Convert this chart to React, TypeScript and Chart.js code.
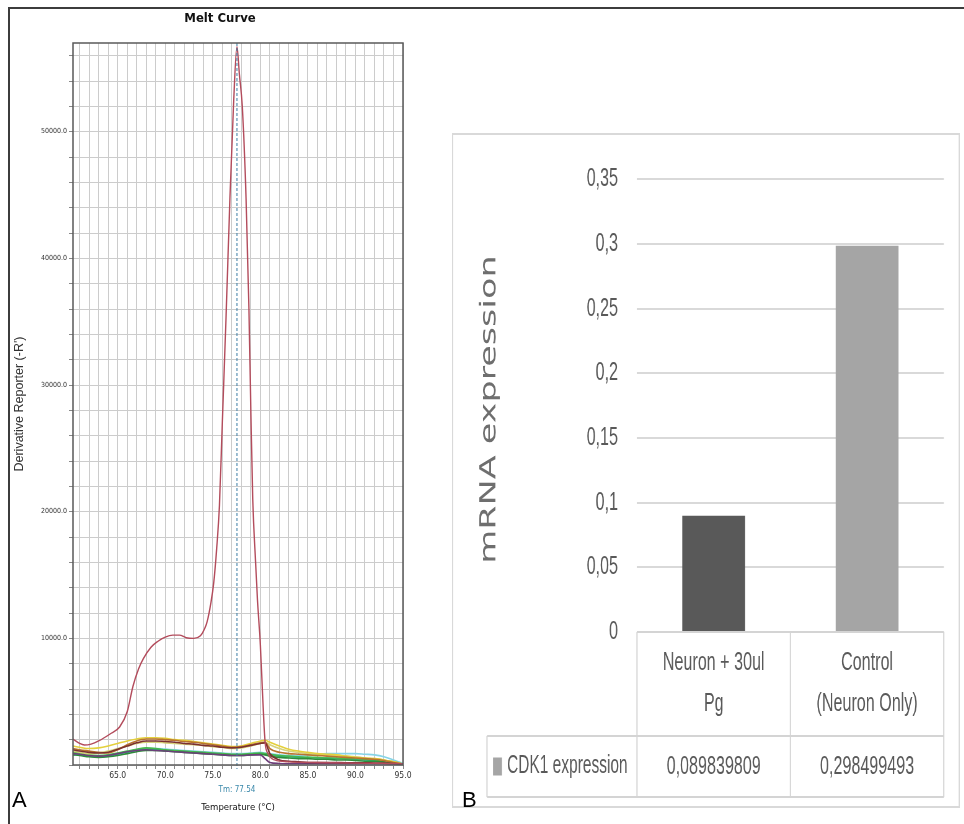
import React, { useEffect, useRef } from 'react';
import { Chart, registerables } from 'chart.js';

Chart.register(...registerables);

const NARROW = '"Liberation Sans Narrow", "Arial Narrow", "DejaVu Sans Condensed", "Roboto Condensed", "Liberation Sans", Arial, sans-serif';
const SANS = '"Liberation Sans", Arial, sans-serif';

// ---------- Panel A : melt curve ----------
const MELT_TITLE = 'Melt Curve';
const MELT_X_TITLE = 'Temperature (°C)';
const MELT_Y_TITLE = "Derivative Reporter (-R')";
const TM_VALUE = 77.54;
const TM_LABEL = 'Tm: 77.54';
const X_MIN = 60.3;
const X_MAX = 95;
const Y_MIN = 0;
const Y_MAX = 57000;
const X_GRID_TICKS = [61, 62, 63, 64, 65, 66, 67, 68, 69, 70, 71, 72, 73, 74, 75, 76, 77, 78, 79, 80, 81, 82, 83, 84, 85, 86, 87, 88, 89, 90, 91, 92, 93, 94, 95];
const Y_GRID_TICKS = [0, 2000, 4000, 6000, 8000, 10000, 12000, 14000, 16000, 18000, 20000, 22000, 24000, 26000, 28000, 30000, 32000, 34000, 36000, 38000, 40000, 42000, 44000, 46000, 48000, 50000, 52000, 54000, 56000];
const Y_LABELLED = [10000, 20000, 30000, 40000, 50000];

const RED_TEMPS = [60.3, 61, 61.5, 62.2, 63, 64.2, 65.2, 66, 66.6, 67.2, 67.7, 68.5, 69.2, 70, 70.8, 71.5, 72.2, 73, 73.7, 74.1, 74.4, 74.8, 75.1, 75.4, 75.7, 76.0, 76.4, 76.8, 77.2, 77.54, 77.8, 78.1, 78.5, 78.8, 79.0, 79.2, 79.5, 79.7, 80.0, 80.3, 80.5, 80.8, 81.5, 83, 86, 90, 95];
const RED_VALUES = [2050, 1700, 1580, 1650, 1900, 2450, 3000, 4200, 6200, 7600, 8400, 9300, 9750, 10100, 10250, 10250, 10050, 10000, 10200, 10700, 11300, 12800, 14400, 17000, 20500, 27000, 35500, 44700, 52500, 56700, 54500, 52000, 44700, 36000, 28000, 21000, 16000, 13000, 9500, 4500, 1800, 900, 400, 250, 200, 150, 100];

const LOW_TEMPS = [60.3, 61, 62, 63, 64, 65, 66, 67, 68, 69, 70, 71, 72, 73, 74, 75, 76, 77, 78, 79, 80, 80.5, 81, 82, 83, 84, 85, 86, 87, 88, 89, 90, 91, 92, 93, 94, 95];
const LOW_YELLOW = [1500, 1400, 1300, 1350, 1500, 1700, 1900, 2050, 2150, 2150, 2100, 2000, 1950, 1850, 1750, 1650, 1550, 1450, 1500, 1700, 1900, 1950, 1800, 1500, 1250, 1100, 1000, 900, 850, 800, 700, 600, 550, 500, 400, 250, 80];
const LOW_ORANGE = [1300, 1200, 1100, 1000, 950, 1200, 1600, 1900, 2050, 2050, 2000, 1950, 1850, 1800, 1700, 1600, 1500, 1400, 1450, 1600, 1750, 1800, 1300, 1000, 900, 850, 800, 750, 700, 650, 600, 550, 500, 450, 350, 200, 80];
const LOW_KHAKI = [1100, 1000, 900, 950, 1100, 1300, 1500, 1700, 1800, 1800, 1750, 1700, 1650, 1600, 1550, 1450, 1400, 1300, 1350, 1500, 1700, 1800, 1600, 1300, 1100, 1000, 900, 850, 800, 750, 700, 650, 550, 500, 400, 250, 80];
const LOW_GREEN = [1000, 950, 800, 750, 800, 950, 1100, 1250, 1350, 1300, 1200, 1150, 1100, 1050, 1000, 950, 900, 850, 850, 900, 950, 900, 850, 750, 700, 650, 600, 600, 550, 550, 500, 500, 450, 400, 350, 250, 80];
const LOW_TEAL = [900, 850, 700, 650, 700, 850, 1000, 1150, 1250, 1250, 1150, 1100, 1050, 1000, 950, 900, 850, 800, 800, 850, 900, 850, 800, 700, 650, 600, 600, 550, 550, 500, 500, 450, 400, 350, 300, 200, 60];
const LOW_CYAN = [800, 800, 700, 700, 750, 900, 1050, 1200, 1300, 1300, 1250, 1200, 1150, 1100, 1050, 1000, 950, 900, 900, 950, 1000, 950, 900, 800, 750, 750, 800, 850, 900, 900, 900, 900, 850, 800, 650, 400, 120];
const LOW_DARKGREEN = [800, 750, 650, 600, 650, 750, 900, 1050, 1150, 1150, 1100, 1050, 1000, 950, 900, 850, 800, 750, 750, 800, 850, 800, 700, 600, 550, 500, 500, 450, 450, 400, 400, 350, 300, 300, 250, 180, 60];
const LOW_MAROON = [1200, 1100, 1000, 950, 1000, 1250, 1500, 1750, 1900, 1900, 1850, 1800, 1700, 1650, 1550, 1500, 1400, 1350, 1400, 1550, 1700, 1750, 900, 400, 300, 250, 200, 200, 200, 200, 180, 180, 170, 160, 150, 120, 80];
const LOW_PURPLE = [900, 850, 750, 700, 750, 900, 1050, 1150, 1200, 1150, 1100, 1050, 1000, 950, 900, 850, 800, 750, 750, 800, 800, 500, 200, 120, 100, 100, 100, 100, 100, 100, 100, 100, 100, 100, 100, 80, 60];

// ---------- Panel B : bar chart with data table ----------
const B_CATEGORIES = [['Neuron + 30ul', 'Pg'], ['Control', '(Neuron Only)']];
const B_SERIES = 'CDK1 expression';
const B_VALUES = [0.089839809, 0.298499493];
const B_COLORS = ['#595959', '#a5a5a5'];
const B_Y_TITLE = 'mRNA expression';
const B_Y_TICKS = ['0', '0,05', '0,1', '0,15', '0,2', '0,25', '0,3', '0,35'];

// Panel B artwork is horizontally compressed in the reference
const B_SQUEEZE = 0.62;
const B_W = 508;
const B_H = 675;
const BX = (px: number) => px / B_SQUEEZE;

function toPoints(temps: number[], values: number[]) {
  return temps.map((t, i) => ({ x: t, y: values[i] }));
}

function lowSet(values: number[], color: string) {
  return {
    data: toPoints(LOW_TEMPS, values),
    borderColor: color,
    borderWidth: 1.6,
    pointRadius: 0,
    cubicInterpolationMode: 'monotone' as const,
  };
}

function MeltChart() {
  const ref = useRef<HTMLCanvasElement>(null);
  useEffect(() => {
    if (!ref.current) return;
    const tmPlugin = {
      id: 'tmFrame',
      afterDatasetsDraw(chart: any) {
        const { ctx, chartArea: a, scales } = chart;
        const x = scales.x.getPixelForValue(TM_VALUE);
        ctx.save();
        ctx.strokeStyle = '#3d7ea6';
        ctx.lineWidth = 1;
        ctx.setLineDash([3, 2]);
        ctx.beginPath();
        ctx.moveTo(x, a.top);
        ctx.lineTo(x, a.bottom + 4);
        ctx.stroke();
        ctx.setLineDash([]);
        ctx.strokeStyle = '#5a5a5a';
        ctx.lineWidth = 1.5;
        ctx.strokeRect(a.left, a.top, a.right - a.left, a.bottom - a.top);
        ctx.fillStyle = '#3a88aa';
        ctx.font = `8px ${NARROW}`;
        ctx.textAlign = 'center';
        ctx.textBaseline = 'middle';
        ctx.fillText(TM_LABEL, x, a.bottom + 25);
        ctx.restore();
      },
    };
    const chart = new Chart(ref.current, {
      type: 'line',
      data: {
        datasets: [
          { data: toPoints(RED_TEMPS, RED_VALUES), borderColor: '#b34c5c', borderWidth: 1.4, pointRadius: 0, cubicInterpolationMode: 'monotone' },
          lowSet(LOW_MAROON, '#7b3030'),
          lowSet(LOW_ORANGE, '#b8742f'),
          lowSet(LOW_YELLOW, '#e4d03c'),
          lowSet(LOW_KHAKI, '#d6d27a'),
          lowSet(LOW_PURPLE, '#6d3f7a'),
          lowSet(LOW_DARKGREEN, '#2e8b3a'),
          lowSet(LOW_GREEN, '#46b84c'),
          lowSet(LOW_TEAL, '#2bb39a'),
          lowSet(LOW_CYAN, '#86d4e6'),
        ],
      },
      options: {
        animation: false,
        responsive: false,
        maintainAspectRatio: false,
        layout: { padding: { left: 29, right: 23, top: 0, bottom: 0 } },
        plugins: {
          legend: { display: false },
          tooltip: { enabled: false },
          title: {
            display: true,
            text: MELT_TITLE,
            color: '#111',
            font: { family: NARROW, size: 13, weight: 'bold', lineHeight: 1.2 },
            padding: { top: 2.7, bottom: 16.7 },
          },
        },
        scales: {
          x: {
            type: 'linear',
            min: X_MIN,
            max: X_MAX,
            afterBuildTicks: (s: any) => {
              s.ticks = X_GRID_TICKS.map((v) => ({ value: v }));
            },
            afterFit: (s: any) => {
              s.height = 55;
            },
            ticks: {
              autoSkip: false,
              maxRotation: 0,
              padding: 2,
              color: '#333',
              font: { family: NARROW, size: 8.5 },
              callback: (v: any) => (Number(v) % 5 === 0 ? Number(v).toFixed(1) : ''),
            },
            grid: { color: '#cccccc', lineWidth: 1, tickLength: 4, tickColor: '#888' },
            border: { display: false },
            title: {
              display: true,
              text: MELT_X_TITLE,
              color: '#111',
              font: { family: NARROW, size: 9.5, lineHeight: 1.2 },
              padding: { top: 0, bottom: 6.3 },
            },
          },
          y: {
            type: 'linear',
            min: Y_MIN,
            max: Y_MAX,
            afterBuildTicks: (s: any) => {
              s.ticks = Y_GRID_TICKS.map((v) => ({ value: v }));
            },
            afterFit: (s: any) => {
              s.width = 36;
            },
            ticks: {
              autoSkip: false,
              padding: 2,
              color: '#333',
              font: { family: NARROW, size: 7 },
              callback: (v: any) => (Y_LABELLED.includes(Number(v)) ? Number(v).toFixed(1) : ''),
            },
            grid: { color: '#cccccc', lineWidth: 1, tickLength: 4, tickColor: '#888' },
            border: { display: false },
            title: {
              display: true,
              text: MELT_Y_TITLE,
              color: '#333',
              font: { family: SANS, size: 12.5, lineHeight: 1.2 },
              padding: { top: -24.5, bottom: 0 },
            },
          },
        },
      },
      plugins: [tmPlugin],
    } as any);
    return () => chart.destroy();
  }, []);
  return <canvas ref={ref} width={418} height={812} style={{ position: 'absolute', left: 8, top: 8 }} />;
}

function ExpressionChart() {
  const ref = useRef<HTMLCanvasElement>(null);
  useEffect(() => {
    if (!ref.current) return;
    const tablePlugin = {
      id: 'dataTable',
      afterDraw(chart: any) {
        const { ctx, chartArea: a, width, height, scales } = chart;
        const n = B_VALUES.length;
        const w = (a.right - a.left) / n;
        const hb = a.bottom + 104;
        const rb = hb + 61;
        const rowLeft = BX(35);
        const mid = (hb + rb) / 2;
        ctx.save();
        ctx.strokeStyle = '#d9d9d9';
        ctx.lineWidth = 2;
        ctx.strokeRect(1, 1, width - 2, height - 2);
        ctx.strokeStyle = '#d4d4d4';
        ctx.lineWidth = 2;
        ctx.beginPath();
        ctx.moveTo(a.left, a.bottom);
        ctx.lineTo(a.right, a.bottom);
        ctx.moveTo(rowLeft, hb);
        ctx.lineTo(a.right, hb);
        ctx.moveTo(rowLeft, rb);
        ctx.lineTo(a.right, rb);
        ctx.moveTo(rowLeft, hb);
        ctx.lineTo(rowLeft, rb);
        for (let i = 0; i <= n; i++) {
          const x = a.left + i * w;
          ctx.moveTo(x, a.bottom);
          ctx.lineTo(x, rb);
        }
        ctx.stroke();
        ctx.fillStyle = B_COLORS[1];
        ctx.fillRect(BX(41), mid - 9, BX(9), 18);
        ctx.fillStyle = '#595959';
        ctx.font = `25px ${SANS}`;
        ctx.textAlign = 'left';
        ctx.textBaseline = 'middle';
        ctx.fillText(B_SERIES, BX(55), mid);
        ctx.font = `26px ${SANS}`;
        ctx.textAlign = 'center';
        B_VALUES.forEach((v, i) => {
          ctx.fillText(String(v).replace('.', ','), scales.x.getPixelForValue(i), mid);
        });
        ctx.translate(BX(38), (a.top + a.bottom) / 2 + 4);
        ctx.rotate(-Math.PI / 2);
        ctx.font = '35px "DejaVu Sans", Verdana, sans-serif';
        ctx.fillStyle = '#6e6e6e';
        ctx.textAlign = 'center';
        ctx.fillText(B_Y_TITLE, 0, 0);
        ctx.restore();
      },
    };
    const chart = new Chart(ref.current, {
      type: 'bar',
      data: {
        labels: B_CATEGORIES,
        datasets: [
          {
            label: B_SERIES,
            data: B_VALUES,
            backgroundColor: B_COLORS,
            barPercentage: 0.41,
            categoryPercentage: 1,
          },
        ],
      },
      options: {
        animation: false,
        responsive: false,
        maintainAspectRatio: false,
        layout: { padding: { left: 0, right: BX(16), top: 46, bottom: 0 } },
        plugins: { legend: { display: false }, tooltip: { enabled: false } },
        scales: {
          x: {
            grid: { display: false, drawTicks: false },
            border: { display: false },
            afterFit: (s: any) => {
              s.height = 176;
            },
            ticks: {
              autoSkip: false,
              maxRotation: 0,
              padding: 10.5,
              color: '#595959',
              font: { family: SANS, size: 26, lineHeight: 41 / 26 },
            },
          },
          y: {
            min: 0,
            max: 0.35,
            afterFit: (s: any) => {
              s.width = BX(185);
            },
            ticks: {
              stepSize: 0.05,
              padding: BX(19),
              color: '#595959',
              font: { family: SANS, size: 26 },
              callback: (v: any) => B_Y_TICKS[Math.round(Number(v) / 0.05)],
            },
            grid: { color: '#d9d9d9', lineWidth: 2, drawTicks: false },
            border: { display: false },
          },
        },
      },
      plugins: [tablePlugin],
    } as any);
    return () => chart.destroy();
  }, []);
  return (
    <canvas
      ref={ref}
      width={Math.round(BX(B_W))}
      height={B_H}
      style={{ position: 'absolute', left: 452, top: 133, transform: `scaleX(${B_SQUEEZE})`, transformOrigin: '0 0' }}
    />
  );
}

export default function App() {
  const letter = { position: 'absolute' as const, top: 789, font: `22px ${SANS}`, lineHeight: '22px', color: '#000' };
  return (
    <div style={{ position: 'absolute', left: 0, top: 0, width: 964, height: 824, background: '#fff', overflow: 'hidden' }}>
      <div style={{ position: 'absolute', left: 8, top: 7, width: 956, height: 817, borderTop: '2px solid #3c3c3c', borderLeft: '2px solid #3c3c3c', boxSizing: 'border-box' }} />
      <MeltChart />
      <ExpressionChart />
      <div style={{ ...letter, left: 12 }}>A</div>
      <div style={{ ...letter, left: 462 }}>B</div>
    </div>
  );
}
